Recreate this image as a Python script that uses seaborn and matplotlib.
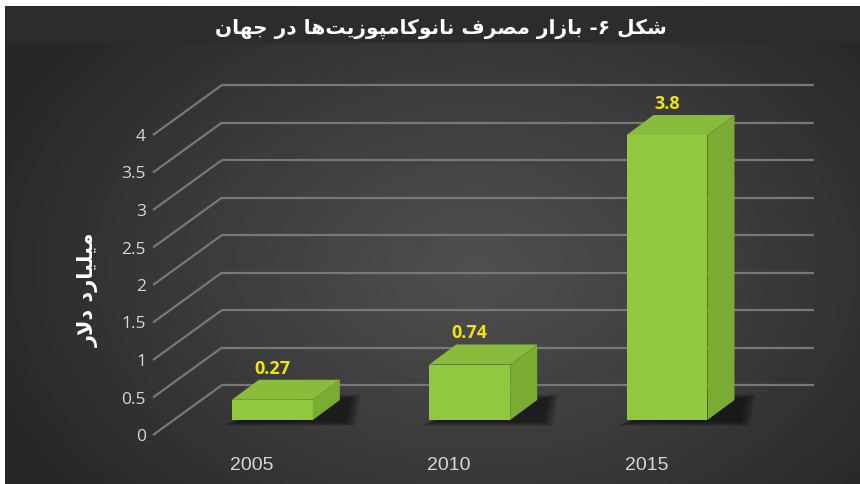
import numpy as np
import matplotlib
matplotlib.use("Agg")
import matplotlib.pyplot as plt
from matplotlib.patches import Polygon, Rectangle
import seaborn as sns
import pandas as pd

years = ["2005", "2010", "2015"]
values = [0.27, 0.74, 3.8]
value_labels = ["0.27", "0.74", "3.8"]
y_ticks = [0, 0.5, 1, 1.5, 2, 2.5, 3, 3.5, 4]
y_tick_labels = ["0", "0.5", "1", "1.5", "2", "2.5", "3", "3.5", "4"]
title = "شکل ۶- بازار مصرف نانوکامپوزیت‌ها در جهان"
y_label = "میلیارد دلار"

# arabic/persian letters -> (isolated, final, initial, medial) presentation forms
FORMS = {
    'ا': ('\uFE8D', '\uFE8E', None, None),
    'ب': ('\uFE8F', '\uFE90', '\uFE91', '\uFE92'),
    'پ': ('\uFB56', '\uFB57', '\uFB58', '\uFB59'),
    'ت': ('\uFE95', '\uFE96', '\uFE97', '\uFE98'),
    'ج': ('\uFE9D', '\uFE9E', '\uFE9F', '\uFEA0'),
    'د': ('\uFEA9', '\uFEAA', None, None),
    'ر': ('\uFEAD', '\uFEAE', None, None),
    'ز': ('\uFEAF', '\uFEB0', None, None),
    'ش': ('\uFEB5', '\uFEB6', '\uFEB7', '\uFEB8'),
    'ص': ('\uFEB9', '\uFEBA', '\uFEBB', '\uFEBC'),
    'ف': ('\uFED1', '\uFED2', '\uFED3', '\uFED4'),
    'ک': ('\uFB8E', '\uFB8F', '\uFB90', '\uFB91'),
    'ل': ('\uFEDD', '\uFEDE', '\uFEDF', '\uFEE0'),
    'م': ('\uFEE1', '\uFEE2', '\uFEE3', '\uFEE4'),
    'ن': ('\uFEE5', '\uFEE6', '\uFEE7', '\uFEE8'),
    'ه': ('\uFEE9', '\uFEEA', '\uFEEB', '\uFEEC'),
    'و': ('\uFEED', '\uFEEE', None, None),
    'ی': ('\uFBFC', '\uFBFD', '\uFBFE', '\uFBFF'),
}


def shape(text):
    # tiny persian shaper: pick joined forms, then reverse for RTL display
    out = []
    i = 0
    while i < len(text):
        c = text[i]
        if c not in FORMS:
            if c != '\u200c':
                out.append(c)
            i += 1
            continue
        prev = text[i - 1] if i > 0 else ''
        prev_joins = prev in FORMS and FORMS[prev][2] is not None
        if c == 'ل' and i + 1 < len(text) and text[i + 1] == 'ا':
            out.append('\uFEFC' if prev_joins else '\uFEFB')
            i += 2
            continue
        nxt = text[i + 1] if i + 1 < len(text) else ''
        next_joins = nxt in FORMS and FORMS[c][2] is not None
        iso, fin, ini, med = FORMS[c]
        if prev_joins and next_joins:
            out.append(med)
        elif prev_joins:
            out.append(fin)
        elif next_joins:
            out.append(ini)
        else:
            out.append(iso)
        i += 1
    return ''.join(reversed(out))


W, H = 860, 484
fig = plt.figure(figsize=(W / 100, H / 100), dpi=100, facecolor="white")

# radial dark background
bg = fig.add_axes([5 / W, 0, (W - 5) / W, (H - 6) / H])
yy, xx = np.mgrid[0:H - 6, 0:W - 5]
r = np.sqrt(((xx - 470) / 520.0) ** 2 + ((yy - 260) / 360.0) ** 2)
shade = np.clip(1 - r, 0, 1)
bg.imshow(0.15 + 0.16 * shade ** 0.9, cmap="gray", vmin=0, vmax=1, aspect="auto")
bg.add_patch(Rectangle((0, 0), W, 35, color="#2c2c2c"))
bg.set_axis_off()

# front plane of the fake 3d box
left, right, base, top = 153, 745, 435, 135
ax = fig.add_axes([left / W, (H - base) / H, (right - left) / W, (base - top) / H])
ax.set_xlim(-0.5, 2.5)
ax.set_ylim(0, 4)
ux = (right - left) / 3.0
uy = (base - top) / 4.0
wall_dx, wall_dy = 69 / ux, 50 / uy

df = pd.DataFrame({"year": years, "value": values})
sns.barplot(data=df, x="year", y="value", ax=ax, width=0.41, color="#92c83e",
            saturation=1, edgecolor="none", zorder=3)

grid_c = "#787878"
for t in y_ticks:
    ax.plot([-0.5, -0.5 + wall_dx], [t, t + wall_dy], color=grid_c, lw=1.6,
            clip_on=False, zorder=1, solid_capstyle="butt")
    ax.plot([-0.5 + wall_dx, 2.5 + wall_dx], [t + wall_dy, t + wall_dy],
            color=grid_c, lw=1.6, clip_on=False, zorder=1, solid_capstyle="butt")

# push bars back into the box and give them depth
shift_x, shift_y = 0.3 * wall_dx, 0.3 * wall_dy
dep_x, dep_y = 27 / ux, 20 / uy
for p, lab in zip(ax.patches, value_labels):
    x0 = p.get_x() + shift_x
    x1 = x0 + p.get_width()
    y0 = shift_y
    h = p.get_height()
    p.set_x(x0)
    p.set_y(y0)
    p.set_clip_on(False)
    # soft shadow, several faint layers
    for k in range(5):
        g = 0.012 * k
        ax.add_patch(Polygon([(x0 - g, y0 - 0.03 - g), (x1 + dep_x + 0.03 + g, y0 - 0.03 - g),
                              (x1 + dep_x + 0.06 + g, y0 + dep_y + 0.03 + g),
                              (x1 - g, y0 + dep_y + g)],
                             closed=True, color="black", alpha=0.13, lw=0,
                             zorder=2, clip_on=False))
    ax.add_patch(Polygon([(x0, y0 + h), (x1, y0 + h), (x1 + dep_x, y0 + h + dep_y),
                          (x0 + dep_x, y0 + h + dep_y)], closed=True,
                         color="#88bc3a", lw=0, zorder=3, clip_on=False))
    ax.add_patch(Polygon([(x1, y0), (x1, y0 + h), (x1 + dep_x, y0 + h + dep_y),
                          (x1 + dep_x, y0 + dep_y)], closed=True,
                         color="#7aab33", lw=0, zorder=3, clip_on=False))
    ax.annotate(lab, xy=((x0 + x1) / 2, y0 + h + dep_y), xytext=(0, 2),
                textcoords="offset pixels", ha="center", va="bottom",
                color="#f2e600", fontsize=13, fontweight="bold",
                family="Open Sans", zorder=5, annotation_clip=False)

ax.set_yticks(y_ticks)
ax.set_yticklabels(y_tick_labels, family="Open Sans", fontsize=12.5, color="#d6d6d6")
ax.set_xticks(range(len(years)))
ax.set_xticklabels(years, family="Liberation Sans", fontsize=14, color="#d6d6d6")
ax.tick_params(axis="y", length=0, pad=5)
ax.tick_params(axis="x", length=0, pad=16)
ax.set_xlabel("")
ax.set_ylabel("")
for s in ax.spines.values():
    s.set_visible(False)
ax.patch.set_visible(False)

fig.text(88 / W, 1 - 290 / H, shape(y_label), rotation=90, ha="center", va="center",
         color="white", fontsize=15, fontweight="bold", family="DejaVu Sans")
fig.text(441 / W, 1 - 29 / H, shape(title), ha="center", va="center",
         color="white", fontsize=14.5, fontweight="bold", family="DejaVu Sans")

fig.savefig("out.png", dpi=100, facecolor="white")
